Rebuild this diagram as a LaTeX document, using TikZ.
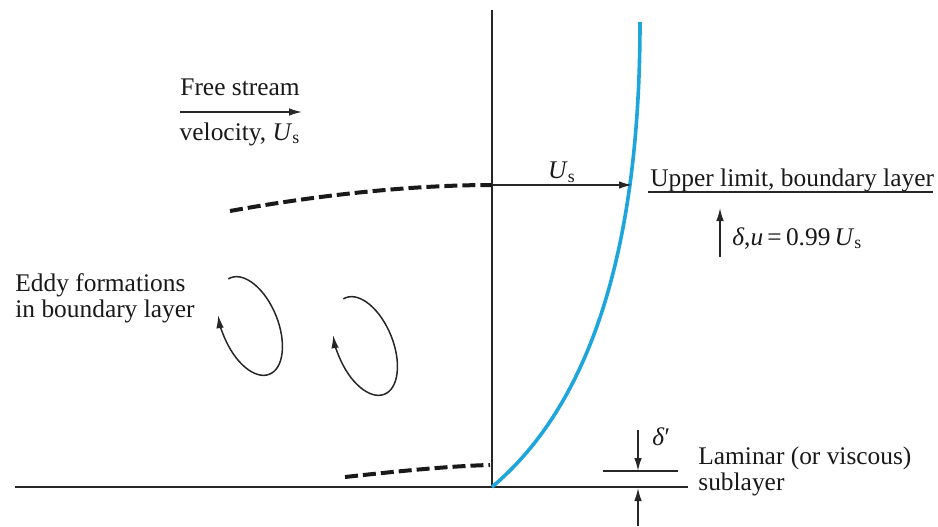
\documentclass[tikz,border=0pt]{standalone}
\usepackage{fontspec}
\setmainfont{Liberation Serif}
\usetikzlibrary{arrows.meta,positioning}
\definecolor{profblue}{RGB}{30,165,220}
\newcommand{\Us}{\textit{U}\textsubscript{s}}

\begin{document}
\begin{tikzpicture}[x=0.5pt, y=0.5pt, >={Latex[length=6.5pt,width=3.8pt]},
  txt/.style={font=\fontsize{12.7}{13}\selectfont, text=black!90, inner sep=0pt},
  wall/.style={draw=black!85, line width=0.75pt},
  bledge/.style={draw=black!90, line width=2pt, dash pattern=on 6.5pt off 2.5pt},
  profile/.style={draw=profblue, line width=1.8pt},
  eddy/.style={wall, ->}
]
  \useasboundingbox (0,0) rectangle (938,526);
  % wall and plate
  \coordinate (o) at (492,39);
  \coordinate (wtop) at (492,516);
  \coordinate (gl) at (15,39);
  \coordinate (gr) at (688,39);
  \draw[wall] (gl) -- (gr);
  \draw[wall] (o) -- (wtop);
  % velocity profile
  \coordinate (ptop) at (640,504);
  \draw[profile] (o) .. controls (600,130) and (640,300) .. (ptop);
  % edges of boundary layer and sublayer
  \coordinate (bl0) at (230,315);
  \coordinate (bl1) at (492,341);
  \draw[bledge] (bl0) .. controls (330,333) and (420,341) .. (bl1);
  \coordinate (sl0) at (345,49);
  \coordinate (sl1) at (490,61);
  \draw[bledge] (sl0) .. controls (400,55) and (450,60) .. (sl1);
  % free stream velocity
  \coordinate (pedge) at (632,341);
  \draw[wall,->] (bl1) -- (pedge);
  \node[txt, anchor=base] (us) at (562,347) {\Us};
  \node[txt, anchor=base] (fs) at (240,430) {Free stream};
  \node[txt, anchor=base] (vel) at (240,386) {velocity, \Us};
  \coordinate (fs0) at (180,414);
  \coordinate (fs1) at (302,414);
  \draw[wall,->] (fs0) -- (fs1);
  % upper limit
  \node[txt, anchor=base west] (ul) at (650,339) {Upper limit, boundary layer};
  \coordinate (ul0) at (648,334);
  \coordinate (ul1) at (933,334);
  \draw[wall] (ul0) -- (ul1);
  \coordinate (d0) at (720,269);
  \coordinate (d1) at (720,318);
  \draw[wall,->] (d0) -- (d1);
  \node[txt, anchor=base west] (del) at (732,281) {\textit{δ},\textit{u}\,=\,0.99\,\Us};
  % eddies
  \node[txt, anchor=base west, align=left] (eddytxt) at (15,209) {Eddy formations\\in boundary layer};
  \draw[eddy, shift={(250,200)}, rotate=22] (95:28 and 52) arc[start angle=95, end angle=-205, x radius=28, y radius=52];
  \draw[eddy, shift={(365,180)}, rotate=22] (95:28 and 52) arc[start angle=95, end angle=-205, x radius=28, y radius=52];
  % laminar sublayer
  \coordinate (sll) at (603,55);
  \coordinate (slr) at (678,55);
  \draw[wall] (sll) -- (slr);
  \coordinate (dp0) at (638,96);
  \coordinate (dp1) at (638,55);
  \draw[wall,->] (dp0) -- (dp1);
  \coordinate (du0) at (638,0);
  \coordinate (du1) at (638,38);
  \draw[wall,->] (du0) -- (du1);
  \node[txt, anchor=base west] (dprime) at (652,81) {\textit{δ}′};
  \node[txt, anchor=base west, align=left] (lam) at (698,36) {Laminar (or viscous)\\sublayer};
\end{tikzpicture}
\end{document}
